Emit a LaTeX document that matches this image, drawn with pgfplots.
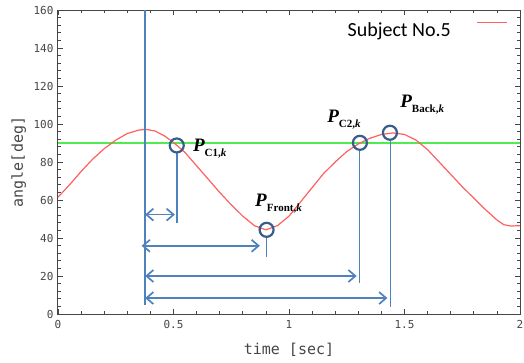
\documentclass[border=0pt]{standalone}
\usepackage{fontspec}
\setmainfont{Liberation Serif}
\newfontfamily\monof{DejaVu Sans Mono}
\newfontfamily\calib{Carlito}
\usepackage{pgfplots}
\pgfplotsset{compat=1.18}
\usetikzlibrary{arrows.meta}
\definecolor{lblue}{RGB}{79,129,189}
\definecolor{dblue}{RGB}{56,93,138}
\definecolor{cred}{RGB}{255,95,95}
\definecolor{cgreen}{RGB}{80,235,80}
\definecolor{axgray}{RGB}{70,70,70}
\newcommand{\Plab}[1]{\fontsize{19}{20}\selectfont\bfseries\itshape P\raisebox{-5pt}{\fontsize{11}{12}\selectfont\upshape #1\itshape k}}
\pgfplotstableread{
x y
0.00 61.5
0.05 68
0.10 75
0.15 81.5
0.20 87
0.25 91.5
0.30 95
0.35 96.8
0.38 97.2
0.42 96.3
0.46 93.8
0.50 90.3
0.55 85
0.60 78
0.65 71
0.70 64
0.75 57.5
0.80 51.5
0.85 46.5
0.90 44.3
0.95 46.5
1.00 51.5
1.05 59
1.10 66.5
1.15 74
1.20 80
1.25 85.5
1.30 89.5
1.35 92.5
1.40 94.5
1.45 95.3
1.50 94.5
1.55 91.5
1.60 86.5
1.65 80
1.70 73.5
1.75 67
1.80 61
1.85 55
1.90 49.5
1.93 47
1.96 46.3
2.00 46.5
}\angledata
\begin{document}
\begin{tikzpicture}
\useasboundingbox (-58pt,-48pt) rectangle (466pt,314pt);
\begin{axis}[
  scale only axis, width=462pt, height=304pt,
  xmin=0, xmax=2, ymin=0, ymax=160,
  xtick={0,0.5,1,1.5,2}, ytick={0,20,...,160},
  minor x tick num=4, minor y tick num=4,
  tick align=inside,
  major tick length=5pt, minor tick length=3pt,
  axis line style={axgray, line width=1pt},
  tick style={axgray, line width=0.8pt},
  /pgf/number format/assume math mode=true,
  ticklabel style={font=\monof\fontsize{11}{12}\selectfont, text=axgray},
  xticklabel style={yshift=-3pt},
  yticklabel style={xshift=-1pt},
  xlabel={time [sec]}, ylabel={angle[deg]},
  label style={font=\monof\fontsize{15}{16}\selectfont, text=axgray},
  xlabel style={at={(axis description cs:0.5,-0.118)}, anchor=center},
  ylabel style={at={(axis description cs:-0.085,0.5)}, anchor=center},
  legend plot pos=right,
  legend style={draw=none, fill=none, at={(rel axis cs:0.975,0.965)}, anchor=north east, inner sep=0pt, font=\calib\fontsize{20}{22}\selectfont},
  legend image code/.code={\path (0pt,0pt); \draw[#1, line width=1.6pt] (24pt,8pt) -- (54pt,8pt);},
]
\addplot[cgreen, line width=1.2pt, forget plot] coordinates {(0,90) (2,90)};
\addplot[cred, line width=1.2pt] table[x=x,y=y] {\angledata};
\addlegendentry{Subject No.5}
% vertical lines
\addplot[lblue, line width=1.7pt, forget plot] coordinates {(0.377,160) (0.377,4.7)};
\addplot[lblue, line width=1.7pt, forget plot] coordinates {(0.514,84.5) (0.514,48)};
\addplot[lblue, line width=1.7pt, forget plot] coordinates {(0.903,40) (0.903,30)};
\addplot[lblue, line width=1.7pt, forget plot] coordinates {(1.305,85.9) (1.305,16.4)};
\addplot[lblue, line width=1.7pt, forget plot] coordinates {(1.44,91.2) (1.44,3.7)};
% arrows
\addplot[lblue, line width=1.7pt, forget plot, {Straight Barb[length=7pt,width=12pt]}-{Straight Barb[length=7pt,width=12pt]}] coordinates {(0.377,52.3) (0.506,52.3)};
\addplot[lblue, line width=1.7pt, forget plot, {Straight Barb[length=7pt,width=12pt]}-{Straight Barb[length=7pt,width=12pt]}] coordinates {(0.362,35.9) (0.874,35.9)};
\addplot[lblue, line width=1.7pt, forget plot, {Straight Barb[length=7pt,width=12pt]}-{Straight Barb[length=7pt,width=12pt]}] coordinates {(0.377,20) (1.293,20)};
\addplot[lblue, line width=1.7pt, forget plot, {Straight Barb[length=7pt,width=12pt]}-{Straight Barb[length=7pt,width=12pt]}] coordinates {(0.377,8.4) (1.426,8.4)};
% circles
\addplot[only marks, mark=o, mark size=7pt, mark options={dblue, line width=2.2pt}, forget plot] coordinates {(0.514,88.7) (0.903,44.3) (1.307,90.1) (1.437,95.4)};
% labels
\node[anchor=base west, inner sep=0pt] at (axis cs:0.584,85.5) {\Plab{C1,}};
\node[anchor=base west, inner sep=0pt] at (axis cs:0.853,56.5) {\Plab{Front,}};
\node[anchor=base west, inner sep=0pt] at (axis cs:1.165,100.8) {\Plab{C2,}};
\node[anchor=base west, inner sep=0pt] at (axis cs:1.481,108.7) {\Plab{Back,}};
\end{axis}
\end{tikzpicture}
\end{document}
